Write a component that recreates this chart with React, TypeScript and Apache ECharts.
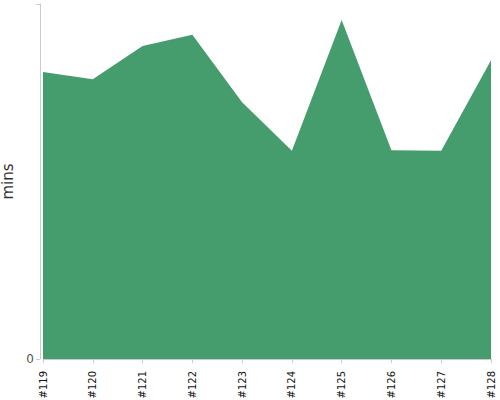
import React, { useEffect, useRef } from "react";
import * as echarts from "echarts";

const categories = ["#119", "#120", "#121", "#122", "#123", "#124", "#125", "#126", "#127", "#128"];
const minutes = [48.5, 47.3, 52.9, 54.8, 43.4, 35.2, 57.3, 35.3, 35.2, 50.5];
const yMax = 60;
const FONT = "'DejaVu Sans', Verdana, sans-serif";

export default function App() {
  const ref = useRef<HTMLDivElement>(null);
  useEffect(() => {
    if (!ref.current) return;
    const chart = echarts.init(ref.current, null, { renderer: "svg" });
    chart.setOption({
      animation: false,
      textStyle: { fontFamily: FONT },
      grid: { left: 43, right: 9, top: 4, bottom: 41, containLabel: false, outerBoundsMode: "none" },
      xAxis: {
        type: "category",
        data: categories,
        boundaryGap: false,
        offset: 4,
        axisLine: { lineStyle: { color: "#cccccc" } },
        axisTick: { show: true, length: 4, alignWithLabel: true, lineStyle: { color: "#cccccc" } },
        axisLabel: { rotate: 90, fontSize: 10, color: "#111111", margin: 8, interval: 0, fontFamily: FONT },
        splitLine: { show: false },
      },
      yAxis: {
        type: "value",
        min: 0,
        max: yMax,
        interval: yMax,
        offset: 3,
        name: "mins",
        nameLocation: "middle",
        nameRotate: 90,
        nameGap: 18,
        nameTextStyle: { fontSize: 15, color: "#333333", fontFamily: FONT },
        axisLine: { show: true, lineStyle: { color: "#cccccc" } },
        axisTick: { show: true, length: 4, lineStyle: { color: "#cccccc" } },
        axisLabel: {
          fontSize: 12,
          color: "#555555",
          margin: 6,
          fontFamily: FONT,
          formatter: (v: number) => (v === 0 ? "0" : ""),
        },
        splitLine: { show: false },
      },
      series: [
        {
          type: "line",
          data: minutes,
          symbol: "none",
          lineStyle: { width: 0, color: "#459c6c" },
          itemStyle: { color: "#459c6c" },
          areaStyle: { color: "#459c6c", opacity: 1 },
        },
      ],
    });
    return () => chart.dispose();
  }, []);
  return <div ref={ref} style={{ width: 500, height: 400, position: "absolute", left: 0, top: 0 }} />;
}
